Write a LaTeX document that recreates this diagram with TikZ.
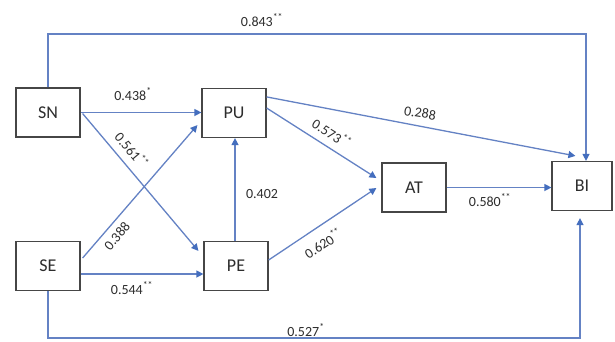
\documentclass[tikz,border=0pt]{standalone}
\usepackage{fontspec}
\setmainfont{Carlito}
\usetikzlibrary{arrows.meta}
\definecolor{ln}{RGB}{100,130,196}
\definecolor{tipc}{RGB}{68,110,190}
\definecolor{bx}{RGB}{70,70,70}
\definecolor{tx}{RGB}{45,45,45}
\begin{document}
\begin{tikzpicture}[x=1pt,y=-1pt,
 box/.style={draw=bx,line width=1.2pt,minimum width=64pt,minimum height=49pt,inner sep=0pt,font=\fontsize{18}{20}\selectfont,text=tx},
 arr/.style={draw=ln,line width=1.3pt,-{Triangle[length=7pt,width=7pt,color=tipc]}},
 lbl/.style={font=\fontsize{14}{16}\selectfont,text=tx,inner sep=0pt}]
\useasboundingbox (0,0) rectangle (615,341);
\fill[white] (0,0) rectangle (615,341);
\node[box] (SN) at (48,112.5) {SN};
\node[box] (PU) at (234,113) {PU};
\node[box] (SE) at (48,266) {SE};
\node[box] (PE) at (236,266) {PE};
\node[box] (AT) at (414,187.5) {AT};
\node[box,minimum width=60pt] (BI) at (582,186) {BI};
\coordinate (topR) at (586,34);
\coordinate (botR) at (580,338);
% connectors
\draw[arr] (SN.north) |- (topR) -- (topR |- BI.north);
\draw[arr,shorten >=7pt] (SE.south) |- (botR) -- (botR |- BI.south);
\draw[arr] (SN.east) -- (SN.east -| PU.west);
\draw[arr] ([shift={(2,1)}]SN.east) -- ([shift={(-5,10)}]PE.north west);
\draw[arr] ([shift={(2,-8)}]SE.east) -- ([shift={(-4,-13)}]PU.south west);
\draw[arr] ([shift={(0,8)}]SE.east) -- ([shift={(0,8)}]PE.west);
\draw[arr] ([xshift=-1pt]PE.north) -- ([xshift=-1pt]PE.north |- PU.south);
\draw[arr] ([shift={(0,-5)}]PU.east) -- ([shift={(-5,-9.5)}]AT.west);
\draw[arr] ([shift={(0,-6)}]PE.east) -- ([shift={(-5,0.5)}]AT.west);
\draw[arr] ([shift={(0,9)}]PU.north east) -- ([shift={(24,-5)}]BI.north west);
\draw[arr] (AT.east) -- (AT.east -| BI.west);
% labels
\node[lbl] (l1) at (262,20) {0.843\textsuperscript{**}};
\node[lbl] (l2) at (133,94) {0.438\textsuperscript{*}};
\node[lbl,rotate=-50] (l3) at (132,150) {0.561\textsuperscript{**}};
\node[lbl,rotate=50] (l4) at (117,236) {0.388};
\node[lbl] (l5) at (132,288) {0.544\textsuperscript{**}};
\node[lbl] (l6) at (262,194) {0.402};
\node[lbl,rotate=-32] (l7) at (332,133) {0.573\textsuperscript{**}};
\node[lbl,rotate=-9] (l8) at (420,113) {0.288};
\node[lbl,rotate=33] (l9) at (323,243) {0.620\textsuperscript{**}};
\node[lbl] (l10) at (490,200) {0.580\textsuperscript{**}};
\node[lbl] (l11) at (306,330) {0.527\textsuperscript{*}};
\end{tikzpicture}
\end{document}
